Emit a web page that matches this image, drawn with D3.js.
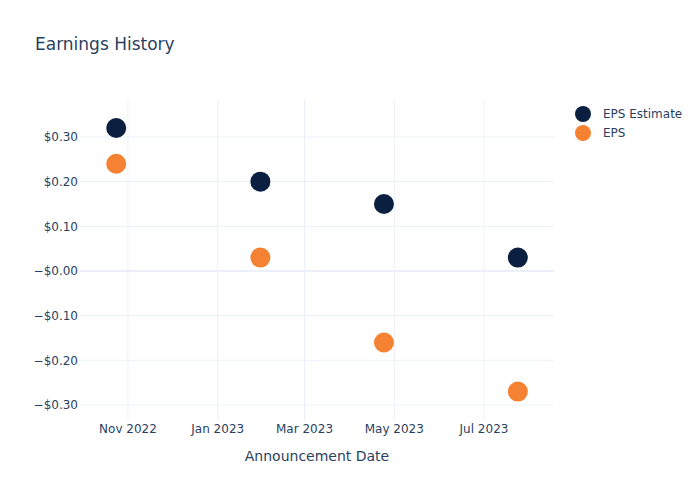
<!DOCTYPE html>
<html><head><meta charset="utf-8">
<script src="https://cdn.jsdelivr.net/npm/d3@7"></script>
<style>body{margin:0;background:#fff}svg{font-family:"DejaVu Sans",verdana,arial,sans-serif}</style>
</head><body><svg id="c" width="700" height="500"></svg>
<script>
const dates = ["2022-10-24","2023-01-30","2023-04-24","2023-07-24"];
const epsEstimate = [0.32, 0.20, 0.15, 0.03];
const eps = [0.24, 0.03, -0.16, -0.27];
const yTicks = [0.3, 0.2, 0.1, 0, -0.1, -0.2, -0.3];
const yTickLabels = ["$0.30","$0.20","$0.10","−$0.00","−$0.10","−$0.20","−$0.30"];
const xTicks = ["2022-11-01","2023-01-01","2023-03-01","2023-05-01","2023-07-01"];
const xTickLabels = ["Nov 2022","Jan 2023","Mar 2023","May 2023","Jul 2023"];
const seriesNames = ["EPS Estimate","EPS"];
const seriesColors = ["#0b1f41","#f58233"];

const svg = d3.select("#c");
const m = {l:80, r:146, t:100, b:80};
const W = 700, H = 500;
const parse = s => new Date(s + "T00:00:00Z");
const x = d3.scaleUtc()
  .domain([new Date(Date.UTC(2022,8,29,9)), new Date(Date.UTC(2023,7,17,14))])
  .range([m.l, W - m.r]);
const y = d3.scaleLinear().domain([-0.3336, 0.3828]).range([H - m.b, m.t]);
const txt = "#2a3f5f", grid = "#ebf0f8";

// grid
const g = svg.append("g");
g.selectAll(".xg").data(xTicks).join("line")
  .attr("x1", d => x(parse(d))).attr("x2", d => x(parse(d)))
  .attr("y1", m.t).attr("y2", H - m.b).attr("stroke", grid).attr("stroke-width", 1);
g.selectAll(".yg").data(yTicks).join("line")
  .attr("x1", m.l).attr("x2", W - m.r)
  .attr("y1", d => y(d)).attr("y2", d => y(d))
  .attr("stroke", grid).attr("stroke-width", d => d === 0 ? 2 : 1);

// y tick labels
svg.selectAll(".yl").data(yTicks).join("text")
  .attr("x", m.l - 2).attr("y", d => y(d)).attr("dy", "0.35em")
  .attr("text-anchor", "end").attr("fill", txt).attr("font-size", 12)
  .text((d, i) => yTickLabels[i]);
// x tick labels
svg.selectAll(".xl").data(xTicks).join("text")
  .attr("x", d => x(parse(d))).attr("y", H - m.b + 4).attr("dy", "0.71em")
  .attr("text-anchor", "middle").attr("fill", txt).attr("font-size", 12)
  .text((d, i) => xTickLabels[i]);

// axis title
svg.append("text").attr("x", (m.l + W - m.r) / 2).attr("y", 461)
  .attr("text-anchor", "middle").attr("fill", txt).attr("font-size", 14)
  .text("Announcement Date");
// title
svg.append("text").attr("x", 35).attr("y", 50).attr("fill", txt).attr("font-size", 17)
  .text("Earnings History");

// points
[epsEstimate, eps].forEach((vals, si) => {
  svg.append("g").selectAll("circle").data(vals).join("circle")
    .attr("cx", (d, i) => x(parse(dates[i]))).attr("cy", d => y(d))
    .attr("r", 10).attr("fill", seriesColors[si]);
});

// legend
const lg = svg.append("g");
seriesNames.forEach((n, i) => {
  lg.append("circle").attr("cx", 583).attr("cy", 114 + i * 19).attr("r", 8).attr("fill", seriesColors[i]);
  lg.append("text").attr("x", 603).attr("y", 114 + i * 19).attr("dy", "0.35em")
    .attr("fill", txt).attr("font-size", 12).text(n);
});
</script></body></html>
